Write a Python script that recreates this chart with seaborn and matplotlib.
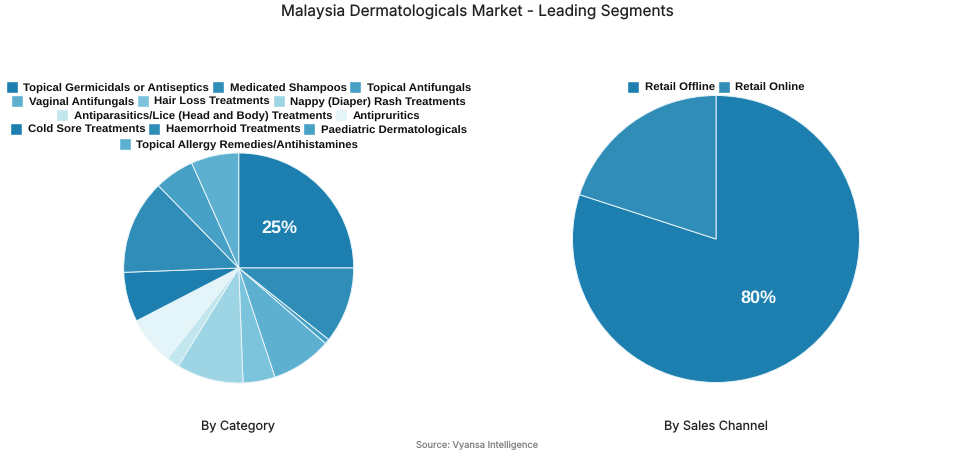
import matplotlib
matplotlib.use("Agg")
import matplotlib.pyplot as plt
from matplotlib.patches import Patch
import seaborn as sns

# data
categories = ["Topical Germicidals or Antiseptics", "Medicated Shampoos", "Topical Antifungals",
              "Vaginal Antifungals", "Hair Loss Treatments", "Nappy (Diaper) Rash Treatments",
              "Antiparasitics/Lice (Head and Body) Treatments", "Antipruritics",
              "Cold Sore Treatments", "Haemorrhoid Treatments", "Paediatric Dermatologicals",
              "Topical Allergy Remedies/Antihistamines"]
category_values = [25, 10.7, 0.7, 8.5, 4.5, 9.4, 1.8, 6.8, 7, 13.3, 5.6, 6.7]
channels = ["Retail Offline", "Retail Online"]
channel_values = [80, 20]

colors = ["#1c7fb0", "#2f8db8", "#47a0c6", "#5eb0d0", "#7cc3dc", "#9dd5e5",
          "#c2e6ee", "#e3f5f8", "#1c7fb0", "#2f8db8", "#47a0c6", "#5eb0d0"]
legend_rows = [[0, 1, 2], [3, 4, 5], [6, 7], [8, 9, 10], [11]]

W, H = 955, 454
sns.set_theme(style="white")
plt.rcParams["font.family"] = ["Liberation Sans", "DejaVu Sans"]
plt.rcParams["text.hinting"] = "no_hinting"
plt.rcParams["text.hinting_factor"] = 8
palette = sns.color_palette(colors)

fig = plt.figure(figsize=(W / 100, H / 100), dpi=100)


def draw_pie(values, cx, cy, r, pal):
    # axes box in pixels, so the radius comes out exact
    pad = r * 1.02
    ax = fig.add_axes([(cx - pad) / W, 1 - (cy + pad) / H, 2 * pad / W, 2 * pad / H])
    top = max(values)
    _, _, labels = ax.pie(values, colors=pal, startangle=90, counterclock=False,
                          autopct=lambda p: f"{p:.0f}%" if p >= top * 100 / sum(values) - 0.01 else "",
                          pctdistance=0.5,
                          wedgeprops=dict(edgecolor="#e8f4f8", linewidth=0.7),
                          textprops=dict(color="#f4fafc", fontsize=13, fontweight="bold"))
    for t in labels:
        x, y = t.get_position()
        t.set_position((x, y - 1.2 / r))
    ax.set_xlim(-1.02, 1.02)
    ax.set_ylim(-1.02, 1.02)


def legend_row(labels, pal, cx, y):
    handles = [Patch(facecolor=c, label=l) for c, l in zip(pal, labels)]
    fig.legend(handles=handles, loc="center", bbox_to_anchor=(cx / W, 1 - y / H),
               ncol=len(handles), frameon=False, borderpad=0, borderaxespad=0,
               handlelength=1.05, handleheight=1.25, handletextpad=0.5, columnspacing=0.25,
               prop=dict(family="Liberation Sans", weight="bold", size=8.2), labelcolor="#111111")


draw_pie(category_values, 238.7, 268, 115, palette)
draw_pie(channel_values, 716, 239, 143.5, palette)

for row, y in zip(legend_rows, [87.5, 101.5, 115.5, 129.5, 144.5]):
    legend_row([categories[i] for i in row], [palette[i] for i in row], 238.5, y)
legend_row(channels, palette[:2], 716, 87.5)

fig.text(477 / W, 1 - 12 / H, "Malaysia Dermatologicals Market - Leading Segments", ha="center", va="center",
         family="Inter", fontsize=11.1, color="#222222")
fig.text(238 / W, 1 - 427 / H, "By Category", ha="center", va="center",
         family="Inter", fontsize=9.1, color="#222222")
fig.text(716 / W, 1 - 427 / H, "By Sales Channel", ha="center", va="center",
         family="Inter", fontsize=9.1, color="#222222")
fig.text(477 / W, 1 - 445.5 / H, "Source: Vyansa Intelligence", ha="center", va="center",
         family="Inter", fontsize=6.7, color="#808080")

fig.savefig("out.png", dpi=100)
